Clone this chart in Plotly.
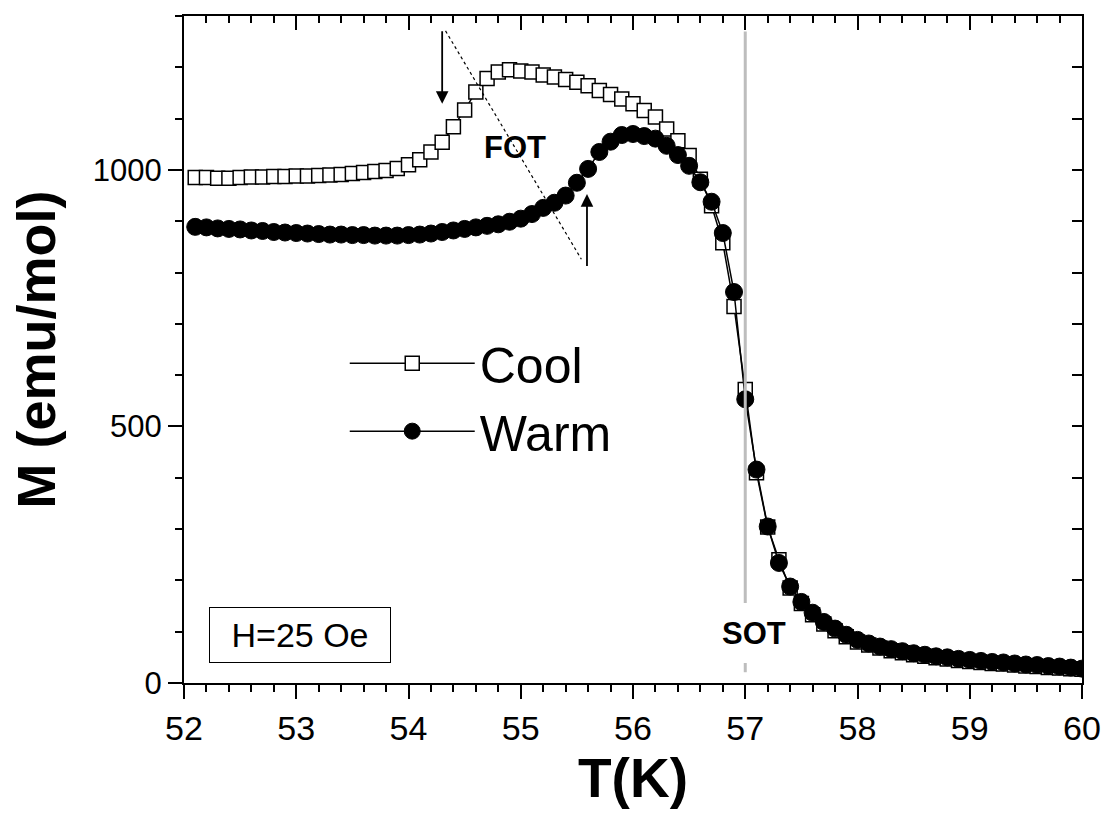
import plotly.graph_objects as go

# ---------------- data ----------------
T = [52.1, 52.2, 52.3, 52.4, 52.5, 52.6, 52.7, 52.8, 52.9, 53.0,
     53.1, 53.2, 53.3, 53.4, 53.5, 53.6, 53.7, 53.8, 53.9, 54.0,
     54.1, 54.2, 54.3, 54.4, 54.5, 54.6, 54.7, 54.8, 54.9, 55.0,
     55.1, 55.2, 55.3, 55.4, 55.5, 55.6, 55.7, 55.8, 55.9, 56.0,
     56.1, 56.2, 56.3, 56.4, 56.5, 56.6, 56.7, 56.8, 56.9, 57.0,
     57.1, 57.2, 57.3, 57.4, 57.5, 57.6, 57.7, 57.8, 57.9, 58.0,
     58.1, 58.2, 58.3, 58.4, 58.5, 58.6, 58.7, 58.8, 58.9, 59.0,
     59.1, 59.2, 59.3, 59.4, 59.5, 59.6, 59.7, 59.8, 59.9, 60.0]

M_cool = [985, 985, 984, 984, 985, 986, 986, 987, 987, 988,
          988, 989, 990, 991, 993, 995, 997, 999, 1003, 1010,
          1020, 1035, 1054, 1084, 1117, 1152, 1178, 1191, 1195, 1193,
          1191, 1185, 1181, 1176, 1171, 1164, 1155, 1147, 1138, 1129,
          1116, 1103, 1080, 1057, 1028, 982, 930, 858, 734, 572,
          410, 304, 240, 185, 155, 133, 115, 102, 90, 80,
          74, 68, 63, 59, 55, 52, 49, 47, 44, 42,
          40, 38, 37, 35, 33, 32, 30, 29, 28, 27]

M_warm = [889, 888, 886, 885, 884, 882, 881, 879, 878, 877,
          876, 875, 874, 874, 873, 873, 872, 872, 872, 873,
          874, 876, 879, 882, 885, 888, 891, 894, 899, 905,
          914, 926, 936, 950, 975, 1002, 1035, 1055, 1068, 1070,
          1066, 1061, 1047, 1029, 1008, 976, 938, 877, 762, 553,
          416, 305, 234, 188, 158, 137, 119, 106, 94, 84,
          77, 71, 66, 62, 58, 55, 52, 50, 47, 45,
          43, 41, 40, 38, 36, 35, 33, 32, 30, 28]

X_RANGE = [52, 60]
Y_RANGE = [0, 1300]
FONT = "Arial, Liberation Sans, sans-serif"

fig = go.Figure()

fig.add_trace(go.Scatter(
    x=T, y=M_cool, name="Cool", mode="lines+markers",
    line=dict(color="black", width=1.5),
    marker=dict(symbol="square", size=14, color="white",
                line=dict(color="black", width=1.5)),
))
fig.add_trace(go.Scatter(
    x=T, y=M_warm, name="Warm", mode="lines+markers",
    line=dict(color="black", width=1.5),
    marker=dict(symbol="circle", size=17, color="black",
                line=dict(color="black", width=1)),
))
# invisible trace on mirror axes so they render
fig.add_trace(go.Scatter(x=[None], y=[None], xaxis="x2", yaxis="y2",
                         showlegend=False, hoverinfo="skip"))

axis_common = dict(showgrid=False, zeroline=False, showline=True,
                   linecolor="black", linewidth=2, tickcolor="black",
                   tickwidth=2)

fig.update_layout(
    width=1113, height=814,
    margin=dict(l=184, r=22, t=16, b=131),
    paper_bgcolor="white", plot_bgcolor="white",
    font=dict(family=FONT, color="black"),
    xaxis=dict(range=X_RANGE, tick0=52, dtick=1, ticks="outside",
               ticklen=14, tickfont=dict(size=34),
               minor=dict(dtick=0.2, ticks="outside", ticklen=7,
                          tickwidth=2, tickcolor="black"),
               title=dict(text="<b>T(K)</b>", font=dict(size=55),
                          standoff=12),
               **axis_common),
    yaxis=dict(range=Y_RANGE, tick0=0, dtick=500, ticks="outside",
               ticklen=14, tickfont=dict(size=31),
               minor=dict(dtick=100, ticks="outside", ticklen=7,
                          tickwidth=2, tickcolor="black"),
               title=dict(text="<b>M (emu/mol)</b>", font=dict(size=54),
                          standoff=20),
               **axis_common),
    xaxis2=dict(range=X_RANGE, overlaying="x", anchor="y", side="top",
                tick0=52, dtick=1, ticks="inside", ticklen=14,
                showticklabels=False,
                minor=dict(dtick=0.2, ticks="inside", ticklen=7,
                           tickwidth=2, tickcolor="black"),
                **axis_common),
    yaxis2=dict(range=Y_RANGE, overlaying="y", anchor="x", side="right",
                tick0=0, dtick=100, ticks="inside", ticklen=10,
                showticklabels=False, **axis_common),
    legend=dict(x=0.179, y=0.538, xanchor="left", yanchor="top",
                font=dict(size=50), bgcolor="rgba(0,0,0,0)",
                itemwidth=125, tracegroupgap=0),
    showlegend=True,
)

# SOT vertical line (with gap for label)
fig.add_shape(type="line", x0=57.0, x1=57.0, y0=156, y1=1270,
              line=dict(color="#bdbdbd", width=3), layer="above")
fig.add_shape(type="line", x0=57.0, x1=57.0, y0=21, y1=39,
              line=dict(color="#bdbdbd", width=3), layer="above")

# FOT dotted line
fig.add_shape(type="line", x0=54.33, y0=1271, x1=55.54, y1=826,
              line=dict(color="black", width=1.2, dash="dot"))

# arrows
fig.add_annotation(x=54.30, y=1129, ax=54.30, ay=1273, axref="x", ayref="y",
                   text="", showarrow=True, arrowhead=2, arrowsize=1.4,
                   arrowwidth=1.8, arrowcolor="black")
fig.add_annotation(x=55.59, y=953, ax=55.59, ay=810, axref="x", ayref="y",
                   text="", showarrow=True, arrowhead=2, arrowsize=1.4,
                   arrowwidth=1.8, arrowcolor="black")

# labels
fig.add_annotation(x=54.95, y=1043, text="<b>FOT</b>", showarrow=False,
                   font=dict(size=31))
fig.add_annotation(x=57.08, y=96, text="<b>SOT</b>", showarrow=False,
                   font=dict(size=31))
fig.add_annotation(x=53.03, y=94, text="H=25 Oe", showarrow=False,
                   font=dict(size=34), bordercolor="black", borderwidth=1,
                   borderpad=0, width=180, height=54, bgcolor="white")

fig.write_html("out.html")
